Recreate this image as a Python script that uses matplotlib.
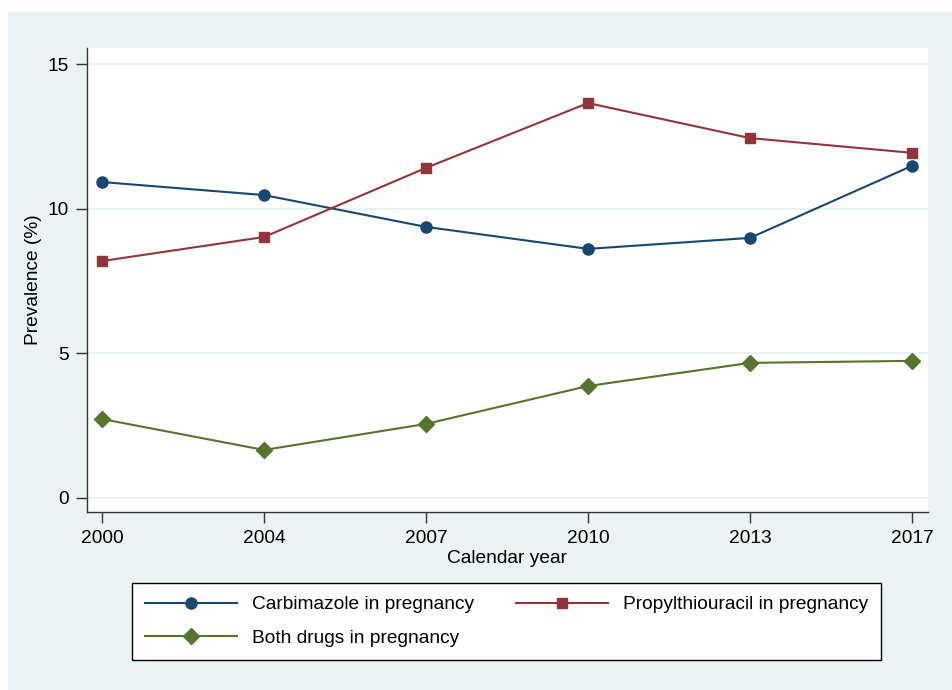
import matplotlib
matplotlib.use("Agg")
import matplotlib.pyplot as plt

years = ["2000", "2004", "2007", "2010", "2013", "2017"]
carbimazole = [10.92, 10.47, 9.37, 8.61, 8.99, 11.48]
propylthiouracil = [8.19, 9.02, 11.41, 13.65, 12.44, 11.93]
both_drugs = [2.73, 1.66, 2.56, 3.87, 4.67, 4.74]
y_ticks = [0, 5, 10, 15]

BG = "#eaf2f3"
NAVY = "#1a476f"
MAROON = "#90353b"
GREEN = "#55752f"
FS = 13.8

plt.rcParams["font.family"] = ["Liberation Sans", "DejaVu Sans"]

fig = plt.figure(figsize=(9.53, 6.9), dpi=100, facecolor="white")
# light Stata-style graph region
fig.patches.append(plt.Rectangle((8 / 953, 0), 1 - 8 / 953, 1 - 12 / 690,
                                 transform=fig.transFigure, color=BG, zorder=-5))

ax = fig.add_axes([87 / 953, (690 - 512) / 690, (928 - 87) / 953, (512 - 48) / 690])
ax.set_facecolor("white")

x = list(range(len(years)))
l1, = ax.plot(x, carbimazole, color=NAVY, lw=1.5, marker="o", ms=8,
              label="Carbimazole in pregnancy", zorder=3)
l2, = ax.plot(x, propylthiouracil, color=MAROON, lw=1.5, marker="s", ms=6.5,
              label="Propylthiouracil in pregnancy", zorder=3)
l3, = ax.plot(x, both_drugs, color=GREEN, lw=1.5, marker="D", ms=8.5,
              label="Both drugs in pregnancy", zorder=3)

ax.set_xlim(-15 / 162, 5 + 16 / 162)
ax.set_ylim(-14 / 28.93, 15 + 16 / 28.93)
ax.set_xticks(x)
ax.set_xticklabels(years)
ax.set_yticks(y_ticks)
ax.tick_params(axis="both", labelsize=FS, length=8, width=1, color="#333333",
               direction="out", pad=5)
ax.grid(axis="y", color=BG, lw=1.5)
ax.set_axisbelow(True)
for s in ["top", "right"]:
    ax.spines[s].set_visible(False)
for s in ["left", "bottom"]:
    ax.spines[s].set_color("#333333")
    ax.spines[s].set_linewidth(1)

ax.set_xlabel("Calendar year", fontsize=FS, labelpad=2)
ax.set_ylabel("Prevalence (%)", fontsize=FS, labelpad=4)

leg = fig.legend(handles=[l1, l3, l2], ncol=2, loc="center",
                 bbox_to_anchor=(506.5 / 953, (690 - 621.5) / 690),
                 fontsize=FS, frameon=True, fancybox=False, edgecolor="black",
                 framealpha=1, facecolor="white",
                 handlelength=4.8, handletextpad=0.78, columnspacing=2.2,
                 labelspacing=0.85, borderpad=0.65)
leg.get_frame().set_linewidth(1)

fig.savefig("out.png", dpi=100, facecolor="white")
